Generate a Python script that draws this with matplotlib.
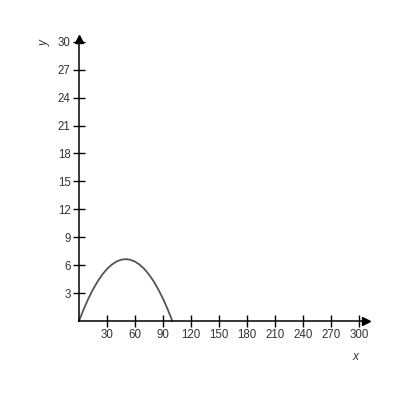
import matplotlib
matplotlib.use('Agg')
import matplotlib.pyplot as plt

# curve (arch from 0 to 100, top near 6.65)
xs = [0, 5, 10, 15, 20, 25, 30, 35, 40, 45, 50, 55, 60, 65, 70, 75, 80, 85, 90, 95, 100]
ys = [0, 1.26, 2.4, 3.39, 4.26, 4.99, 5.59, 6.05, 6.38, 6.58, 6.65,
      6.58, 6.38, 6.05, 5.59, 4.99, 4.26, 3.39, 2.4, 1.26, 0]

xticks = [30, 60, 90, 120, 150, 180, 210, 240, 270, 300]
yticks = [3, 6, 9, 12, 15, 18, 21, 24, 27, 30]

plt.rcParams['font.family'] = ['Liberation Sans', 'DejaVu Sans']

fig = plt.figure(figsize=(4, 4), dpi=100)
ax = fig.add_axes([0.1975, 0.1975, 0.7175, 0.705])

ax.plot(xs, ys, color='#555555', lw=1.3, clip_on=False)

ax.set_xlim(0, 307.5)
ax.set_ylim(0, 30.3)
ax.set_xticks(xticks)
ax.set_yticks(yticks)
ax.tick_params(direction='inout', length=8, width=1, labelsize=8.3,
               labelcolor='#333333', color='black', pad=2)

for s in ['top', 'right']:
    ax.spines[s].set_visible(False)
for s in ['left', 'bottom']:
    ax.spines[s].set_linewidth(1.1)

# arrow heads
ax.plot(1, 0, '>', color='black', ms=6, transform=ax.transAxes, clip_on=False)
ax.plot(0, 1, '^', color='black', ms=6, transform=ax.transAxes, clip_on=False)

fig.text(355 / 400, 1 - 357 / 400, 'x', fontsize=8.5, style='italic',
         color='#333333', ha='center', va='center')
fig.text(45 / 400, 1 - 43 / 400, 'y', fontsize=8.5, style='italic',
         color='#333333', ha='center', va='center', rotation=90)

fig.savefig('out.png', dpi=100)
